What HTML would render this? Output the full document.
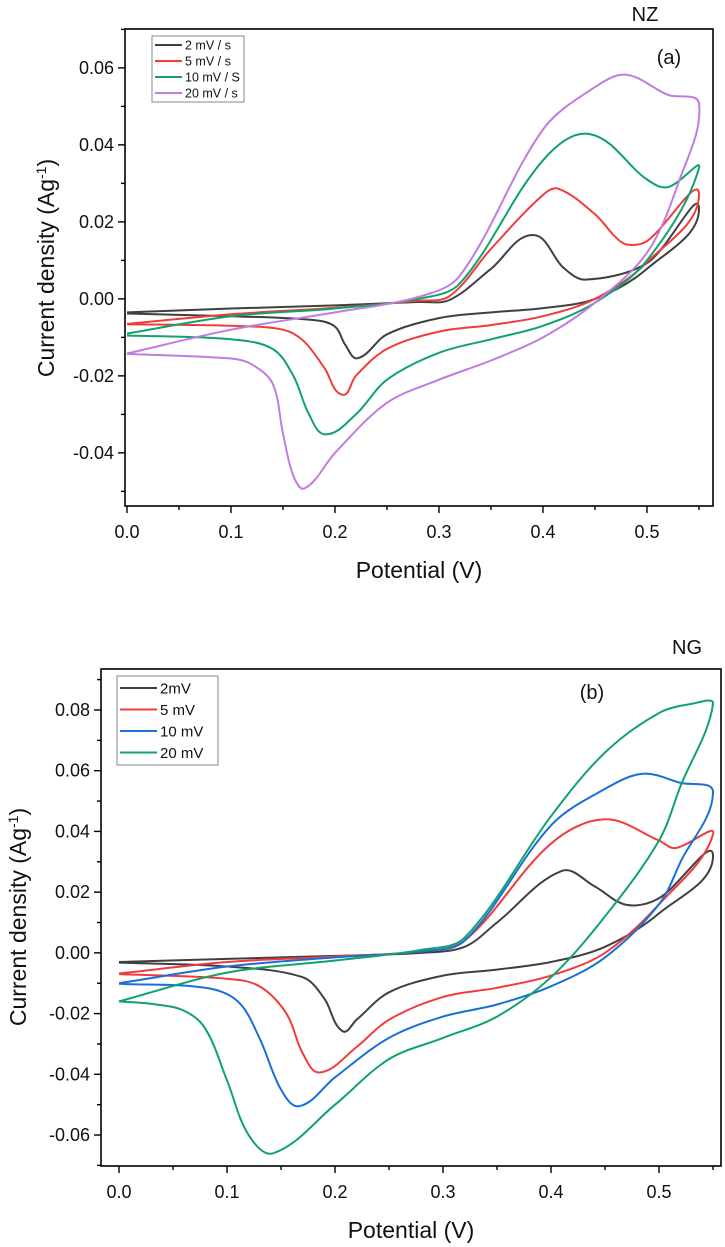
<!DOCTYPE html>
<html><head><meta charset="utf-8">
<style>
html,body{margin:0;padding:0;background:#fff;}
svg{display:block;font-family:"Liberation Sans",Arial,sans-serif;}
</style></head>
<body>
<svg id="fig" width="725" height="1247" viewBox="0 0 725 1247" xmlns="http://www.w3.org/2000/svg"></svg>
<script>
// ---------- Chart (a) NZ data ----------
const aLabels = ["2 mV / s","5 mV / s","10 mV / S","20 mV / s"];
const aColors = ["#404040","#f03c3c","#0fa36b","#c07ce0"];
const a2V = [0,0.1,0.2,0.28,0.31,0.35,0.39,0.42,0.441,0.5,0.55,0.5,0.45,0.4,0.35,0.3,0.25,0.222,0.21,0.2,0.18,0.1,0];
const a2I = [-0.0035,-0.0025,-0.0017,-0.0008,-0.0003,0.0078,0.0166,0.008,0.005,0.0093,0.0233,0.0078,0,-0.0024,-0.0035,-0.005,-0.0092,-0.0154,-0.012,-0.0072,-0.0055,-0.0045,-0.0038];
const a5V = [0,0.1,0.2,0.28,0.31,0.35,0.4,0.415,0.45,0.47,0.481,0.5,0.55,0.5,0.45,0.4,0.35,0.3,0.25,0.22,0.207,0.19,0.17,0.15,0.1,0];
const a5I = [-0.0065,-0.004,-0.0023,-0.0005,0.0007,0.013,0.027,0.0286,0.022,0.016,0.0141,0.015,0.027,0.0095,0,-0.0045,-0.0068,-0.0085,-0.013,-0.02,-0.0249,-0.018,-0.011,-0.008,-0.007,-0.0066];
const a10V = [0,0.1,0.2,0.28,0.32,0.4,0.445,0.5,0.52,0.55,0.5,0.45,0.4,0.35,0.3,0.25,0.22,0.191,0.175,0.16,0.14,0.1,0];
const a10I = [-0.009,-0.0045,-0.0025,0,0.004,0.036,0.0428,0.031,0.029,0.034,0.01,-0.001,-0.007,-0.0105,-0.014,-0.021,-0.03,-0.0352,-0.03,-0.02,-0.013,-0.0105,-0.0095];
const a20V = [0,0.1,0.2,0.28,0.32,0.4,0.45,0.48,0.52,0.55,0.53,0.5,0.45,0.4,0.35,0.3,0.25,0.2,0.171,0.16,0.15,0.14,0.12,0.1,0];
const a20I = [-0.0142,-0.008,-0.0035,0.0005,0.006,0.044,0.055,0.0582,0.053,0.0508,0.03,0.012,-0.001,-0.01,-0.016,-0.021,-0.027,-0.04,-0.0492,-0.046,-0.035,-0.022,-0.017,-0.0155,-0.0143];
const aYTicks = [-0.04,-0.02,0.00,0.02,0.04,0.06];
const aYTickLabels = ["-0.04","-0.02","0.00","0.02","0.04","0.06"];
const xTicks = [0,0.1,0.2,0.3,0.4,0.5];
const xTickLabels = ["0.0","0.1","0.2","0.3","0.4","0.5"];

// ---------- Chart (b) NG data ----------
const bLabels = ["2mV","5 mV","10 mV","20 mV"];
const bColors = ["#404040","#f03c3c","#1a6fd6","#0fa36b"];
const b2V = [0,0.1,0.2,0.28,0.32,0.35,0.41,0.44,0.47,0.5,0.55,0.5,0.45,0.4,0.35,0.3,0.25,0.22,0.207,0.19,0.17,0.1,0];
const b2I = [-0.003,-0.002,-0.001,0,0.002,0.01,0.027,0.022,0.0158,0.018,0.0318,0.013,0.002,-0.003,-0.0055,-0.0075,-0.013,-0.022,-0.0258,-0.015,-0.008,-0.0045,-0.0032];
const b5V = [0,0.1,0.2,0.28,0.32,0.4,0.45,0.5,0.515,0.55,0.5,0.45,0.4,0.35,0.3,0.25,0.22,0.186,0.17,0.155,0.13,0.1,0];
const b5I = [-0.0068,-0.003,-0.0012,0.0005,0.004,0.036,0.044,0.037,0.0345,0.039,0.016,0,-0.0075,-0.0115,-0.0145,-0.022,-0.031,-0.0394,-0.033,-0.02,-0.011,-0.0085,-0.007];
const b10V = [0,0.1,0.2,0.28,0.32,0.4,0.45,0.485,0.52,0.55,0.52,0.5,0.45,0.4,0.35,0.3,0.25,0.2,0.167,0.15,0.13,0.11,0.08,0];
const b10I = [-0.01,-0.0045,-0.0015,0.0005,0.004,0.042,0.054,0.059,0.056,0.053,0.03,0.016,-0.0015,-0.011,-0.017,-0.021,-0.028,-0.041,-0.0505,-0.045,-0.028,-0.016,-0.0115,-0.0102];
const b20V = [0,0.1,0.2,0.28,0.32,0.4,0.45,0.5,0.53,0.55,0.52,0.5,0.45,0.4,0.35,0.3,0.25,0.2,0.143,0.12,0.1,0.08,0.06,0.03,0];
const b20I = [-0.016,-0.0065,-0.0025,0.001,0.005,0.045,0.066,0.079,0.082,0.082,0.055,0.037,0.012,-0.008,-0.021,-0.028,-0.035,-0.05,-0.066,-0.06,-0.042,-0.025,-0.019,-0.0168,-0.016];
const bYTicks = [-0.06,-0.04,-0.02,0.00,0.02,0.04,0.06,0.08];
const bYTickLabels = ["-0.06","-0.04","-0.02","0.00","0.02","0.04","0.06","0.08"];

const NS="http://www.w3.org/2000/svg";
const svg=document.getElementById('fig');
function mk(tag,attrs,parent){const e=document.createElementNS(NS,tag);for(const k in attrs)e.setAttribute(k,attrs[k]);(parent||svg).appendChild(e);return e;}
function dist(a,b){return Math.hypot(a[0]-b[0],a[1]-b[1])||1e-6;}
function smooth(pts){const n=pts.length;const T=[];
 for(let i=0;i<n;i++){const p0=pts[Math.max(0,i-1)],p2=pts[Math.min(n-1,i+1)];
  const d=dist(p0,p2);T.push([(p2[0]-p0[0])/d,(p2[1]-p0[1])/d]);}
 let d="M"+pts[0][0].toFixed(1)+","+pts[0][1].toFixed(1);
 for(let i=0;i<n-1;i++){const p1=pts[i],p2=pts[i+1];const L=dist(p1,p2)/3;
  const c1=[p1[0]+T[i][0]*L,p1[1]+T[i][1]*L],c2=[p2[0]-T[i+1][0]*L,p2[1]-T[i+1][1]*L];
  d+=" C"+c1[0].toFixed(1)+","+c1[1].toFixed(1)+" "+c2[0].toFixed(1)+","+c2[1].toFixed(1)+" "+p2[0].toFixed(1)+","+p2[1].toFixed(1);}
 return d;}

function chart(cfg){
 const g=mk('g',{});
 
 
 const X=v=>cfg.x0+(v-cfg.xmin)*(cfg.x1-cfg.x0)/(cfg.xmax-cfg.xmin);
 const Y=v=>cfg.y1-(v-cfg.ymin)*(cfg.y1-cfg.y0)/(cfg.ymax-cfg.ymin);
 cfg.series.forEach((s,i)=>{
  const pts=s.v.map((v,j)=>[X(v),Y(s.i[j])]);
  const p=mk('path',{d:smooth(pts),fill:'none',stroke:cfg.colors[i],'stroke-width':2,'stroke-linejoin':'round'},g);
  
  
 });
 const fr=mk('rect',{x:cfg.x0,y:cfg.y0,width:cfg.x1-cfg.x0,height:cfg.y1-cfg.y0,fill:'none',stroke:'#000','stroke-width':1.6},g);
 
 
 const xa=mk('g',{},g);
 
 
 for(let k=0;k<=11;k++){const v=k*0.05;const px=X(v);const major=k%2===0;
  mk('line',{x1:px,x2:px,y1:cfg.y1,y2:cfg.y1+(major?7:4),stroke:'#000','stroke-width':1.4},xa);}
 xTicks.forEach((v,i)=>{const t=mk('text',{x:X(v),y:cfg.y1+32,'text-anchor':'middle','font-size':18,fill:'#111'},xa);t.textContent=xTickLabels[i];
  
  });
 const ya=mk('g',{},g);
 
 
 for(let v=Math.ceil(cfg.ymin/0.01)*0.01;v<=cfg.ymax+1e-9;v+=0.01){const py=Y(v);const major=Math.abs(Math.round(v/0.01))%2===0;
  mk('line',{x1:cfg.x0,x2:cfg.x0-(major?7:4),y1:py,y2:py,stroke:'#000','stroke-width':1.4},ya);}
 cfg.yt.forEach((v,i)=>{const t=mk('text',{x:cfg.x0-11,y:Y(v)+6,'text-anchor':'end','font-size':18,fill:'#111'},ya);t.textContent=cfg.ytl[i];
  
  });
 const xt=mk('text',{x:cfg.xtx,y:cfg.xty,'text-anchor':'middle','font-size':23,fill:'#111'},g);xt.textContent='Potential (V)';
 
 
 const yt=mk('text',{x:0,y:0,'text-anchor':'middle','font-size':23,fill:'#111',transform:`translate(${cfg.ytx},${cfg.yty}) rotate(-90)`},g);
 yt.innerHTML='Current density (Ag<tspan dy="-8" font-size="14">-1</tspan><tspan dy="8">)</tspan>';
 
 
 const ti=mk('text',{x:cfg.tx,y:cfg.ty,'text-anchor':'middle','font-size':20,fill:'#111'},g);ti.textContent=cfg.title;
 
 
 const pl=mk('text',{x:cfg.px,y:cfg.py,'text-anchor':'middle','font-size':20,fill:'#111'},g);pl.textContent=cfg.panel;
 
 
 const lg=mk('g',{},g);
 
 
 const L=cfg.leg;
 mk('rect',{x:L.x,y:L.y,width:L.w,height:L.h,fill:'#fff',stroke:'#888','stroke-width':1},lg);
 cfg.labels.forEach((lab,i)=>{const cy=L.y+L.pad+i*L.dy;
  const e=mk('g',{},lg);
  
  
  mk('line',{x1:L.x+3,x2:L.x+L.lw,y1:cy,y2:cy,stroke:cfg.colors[i],'stroke-width':2},e);
  const t=mk('text',{x:L.x+L.lw+3,y:cy+L.fs*0.36,'font-size':L.fs,fill:'#111'},e);t.textContent=lab;});
}

chart({name:'chart-a-nz',x0:125,x1:713,y0:29,y1:506,xmin:-0.0019,xmax:0.5635,ymin:-0.0538,ymax:0.0701,
 series:[{v:a2V,i:a2I},{v:a5V,i:a5I},{v:a10V,i:a10I},{v:a20V,i:a20I}],colors:aColors,labels:aLabels,
 yt:aYTicks,ytl:aYTickLabels,xtx:419,xty:578,ytx:54,yty:268,title:'NZ',tx:645,ty:21,panel:'(a)',px:669,py:64,
 leg:{x:152,y:36,w:92,h:66,pad:9,dy:16,lw:30,fs:12.5}});
chart({name:'chart-b-ng',x0:101,x1:721,y0:669,y1:1166,xmin:-0.0167,xmax:0.5574,ymin:-0.0702,ymax:0.0935,
 series:[{v:b2V,i:b2I},{v:b5V,i:b5I},{v:b10V,i:b10I},{v:b20V,i:b20I}],colors:bColors,labels:bLabels,
 yt:bYTicks,ytl:bYTickLabels,xtx:411,xty:1238,ytx:26,yty:917,title:'NG',tx:687,ty:654,panel:'(b)',px:592,py:699,
 leg:{x:117,y:676,w:101,h:89,pad:12,dy:21.5,lw:40,fs:15}});
</script>
</body></html>
